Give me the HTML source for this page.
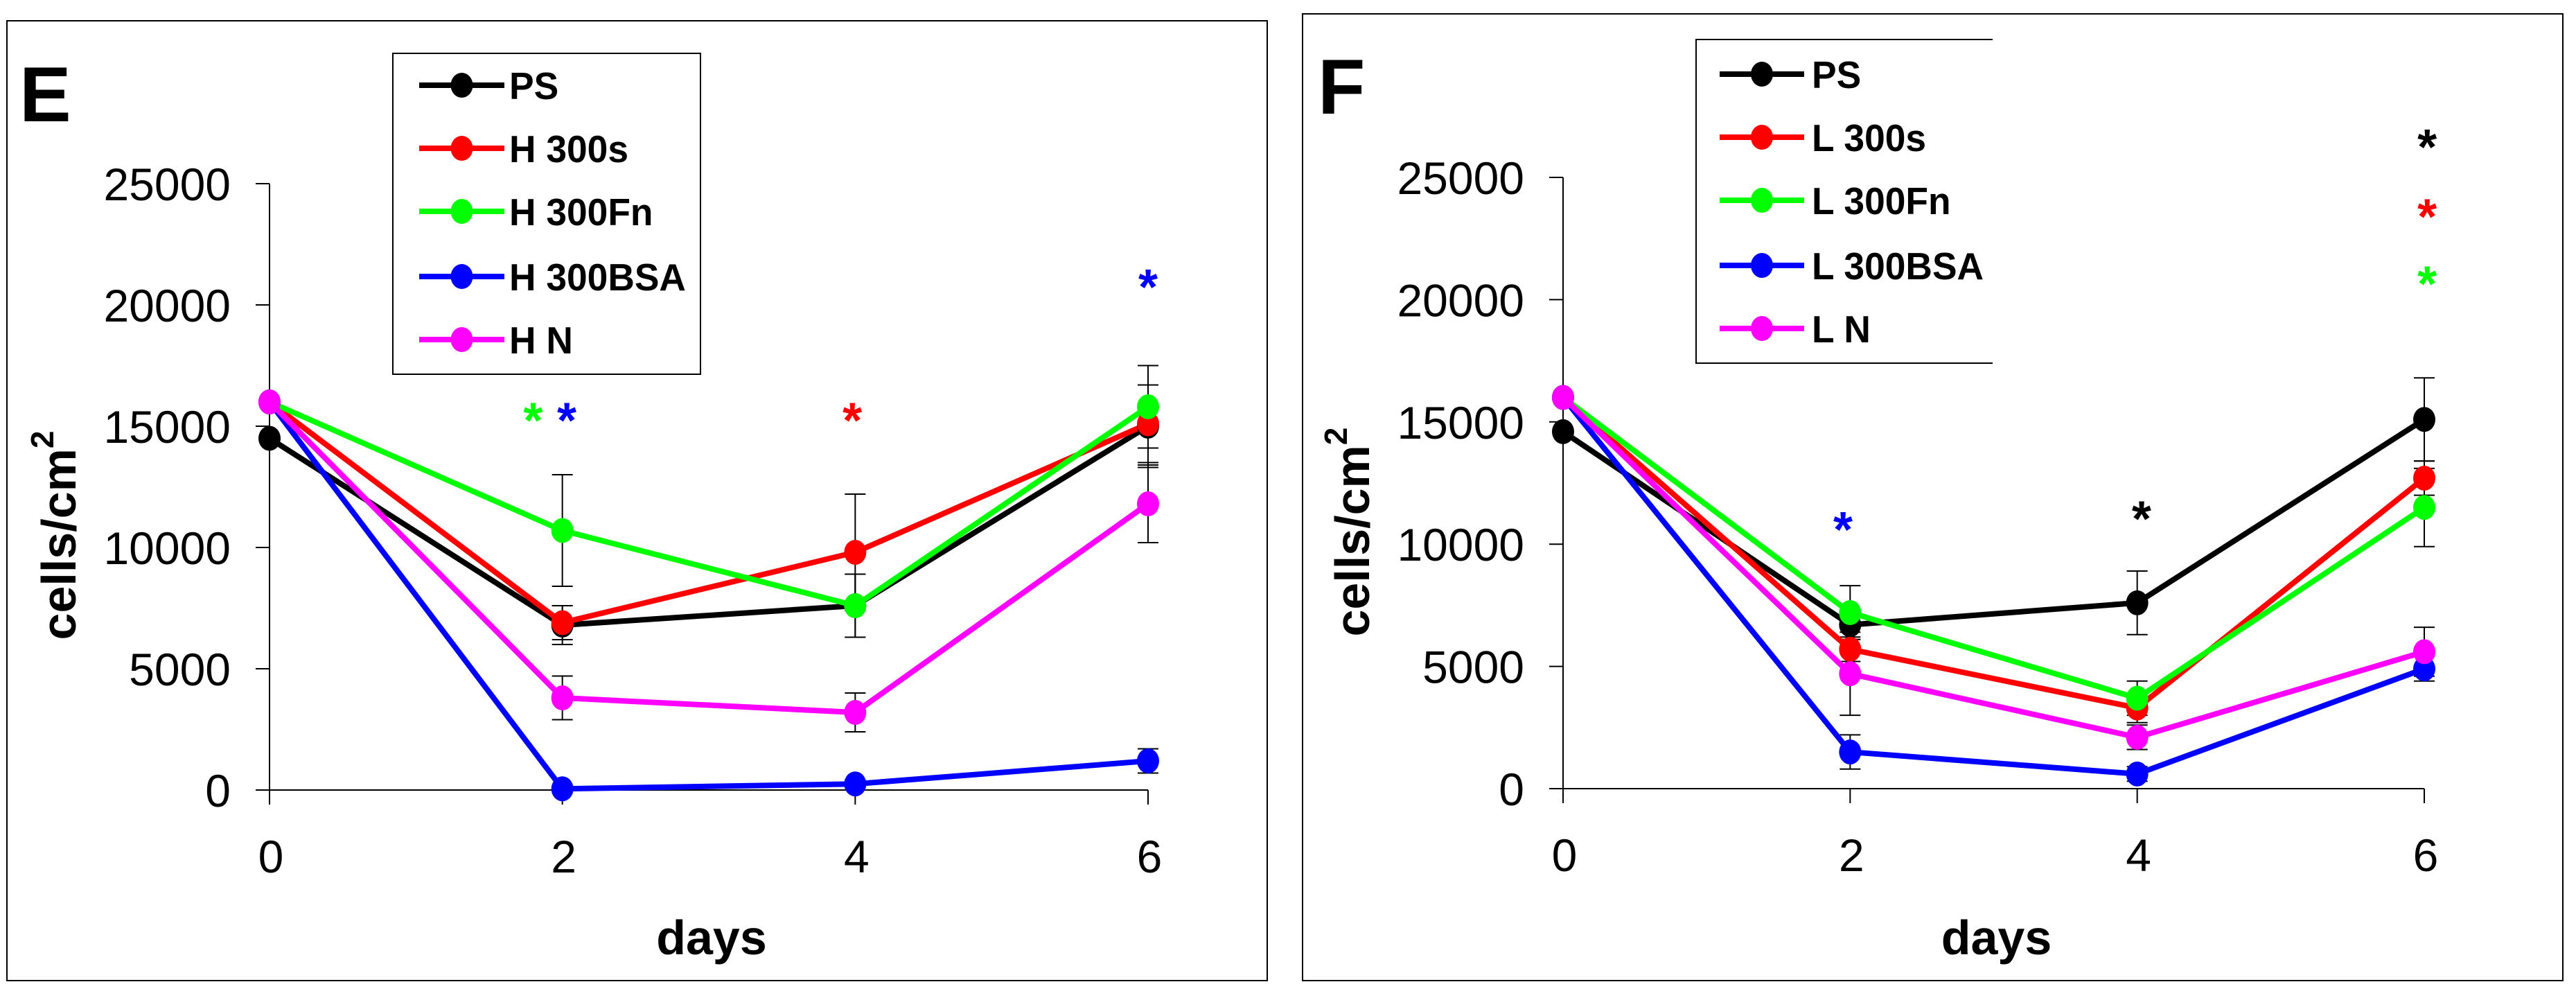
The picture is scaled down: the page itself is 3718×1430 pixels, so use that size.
<!DOCTYPE html>
<html><head><meta charset="utf-8"><style>
html,body{margin:0;padding:0;background:#fff;}
svg{display:block;}
text{font-family:"Liberation Sans",Arial,sans-serif;}
</style></head><body>
<svg id="chart" width="3718" height="1430" viewBox="0 0 3718 1430" xmlns="http://www.w3.org/2000/svg"></svg>
<script>
const days = [0, 2, 4, 6];
const yTicks = [0, 5000, 10000, 15000, 20000, 25000];
const colors = ["#000000", "#ff0000", "#00ff00", "#0000ff", "#ff00ff"];
const namesE = ["PS", "H 300s", "H 300Fn", "H 300BSA", "H N"];
const namesF = ["PS", "L 300s", "L 300Fn", "L 300BSA", "L N"];
const psE = [14500, 6800, 7600, 15000];
const h300sE = [16000, 6900, 9800, 15100];
const h300FnE = [16000, 10700, 7600, 15800];
const h300BsaE = [16000, 50, 250, 1200];
const hNE = [16000, 3800, 3200, 11800];
const psErrE = [0, 800, 1300, 1700];
const h300sErrE = [0, 700, 2400, 1600];
const h300FnErrE = [0, 2300, 1300, 1700];
const h300BsaErrE = [0, 0, 0, 500];
const hNErrE = [0, 900, 800, 1600];
const psF = [14600, 6700, 7600, 15100];
const l300sF = [16000, 5700, 3300, 12700];
const l300FnF = [16000, 7200, 3700, 11500];
const l300BsaF = [16000, 1500, 600, 4900];
const lNF = [16000, 4700, 2100, 5600];
const psErrF = [0, 600, 1300, 1700];
const l300sErrF = [0, 500, 600, 700];
const l300FnErrF = [0, 1100, 700, 1600];
const l300BsaErrF = [0, 700, 300, 500];
const lNErrF = [0, 1700, 500, 1000];
const starsE = [[1.8, 15500, 2], [2.03, 15500, 3], [3.98, 15500, 1], [6.0, 21000, 3]];
const starsF = [[1.95, 10850, 3], [4.03, 11300, 0], [6.02, 26500, 0], [6.02, 23650, 1], [6.02, 20900, 2]];

const NS = "http://www.w3.org/2000/svg";
const svg = document.getElementById("chart");
function mk(tag, attrs, parent) {
  const e = document.createElementNS(NS, tag);
  for (const k in attrs) e.setAttribute(k, attrs[k]);
  (parent || svg).appendChild(e);
  return e;
}

function panel(cfg) {
  const g = mk("g", {});
  
  
  const xS = d => cfg.x0 + (d - 0) / 6 * (cfg.x6 - cfg.x0);
  const yS = v => cfg.y0 - v / 25000 * (cfg.y0 - cfg.y25);
  const frame = mk("rect", {x: cfg.fx, y: cfg.fy, width: cfg.fw, height: cfg.fh, fill: "none", stroke: "#000", "stroke-width": 2}, g);
  
  
  const letter = mk("text", {x: cfg.lx, y: cfg.ly, "font-size": 112, "font-weight": "bold"}, g);
  letter.textContent = cfg.letter;
  
  
  const ya = mk("line", {x1: cfg.x0, y1: yS(25000), x2: cfg.x0, y2: cfg.y0, stroke: "#000", "stroke-width": 2}, g);
  
  
  const xa = mk("line", {x1: cfg.x0 - 20, y1: cfg.y0, x2: xS(6), y2: cfg.y0, stroke: "#000", "stroke-width": 2}, g);
  
  
  yTicks.forEach(t => {
    const tk = mk("line", {x1: cfg.x0 - 20, y1: yS(t), x2: cfg.x0, y2: yS(t), stroke: "#000", "stroke-width": 2}, g);
    
    
    const tl = mk("text", {x: cfg.x0 - 56, y: yS(t) + 24, "font-size": 66, "text-anchor": "end"}, g);
    tl.textContent = t;
    
    
  });
  days.forEach(d => {
    const tk = mk("line", {x1: xS(d), y1: cfg.y0, x2: xS(d), y2: cfg.y0 + 21, stroke: "#000", "stroke-width": 2}, g);
    
    
    const tl = mk("text", {x: xS(d) + 2, y: cfg.y0 + 119, "font-size": 66, "text-anchor": "middle"}, g);
    tl.textContent = d;
    
    
  });
  const xt = mk("text", {x: (xS(0) + xS(6)) / 2 + 4, y: 1377, "font-size": 70, "font-weight": "bold", "text-anchor": "middle"}, g);
  xt.textContent = "days";
  
  
  const yt = mk("text", {x: 0, y: 0, "font-size": 70, "font-weight": "bold", "text-anchor": "middle", transform: `translate(${cfg.x0 - 280},${yS(10500)}) rotate(-90)`}, g);
  yt.innerHTML = 'cells/cm<tspan dy="-32" font-size="46">2</tspan>';
  
  
  cfg.series.forEach((s, i) => {
    s.forEach((v, j) => {
      const e = cfg.errs[i][j];
      if (!e) return;
      const x = xS(days[j]);
      const eb = mk("path", {d: `M${x},${yS(v + e)}V${yS(v - e)}M${x - 15},${yS(v + e)}H${x + 15}M${x - 15},${yS(v - e)}H${x + 15}`, stroke: "#000", "stroke-width": 2, fill: "none"}, g);
      
      
    });
  });
  cfg.series.forEach((s, i) => {
    const pts = s.map((v, j) => xS(days[j]) + "," + yS(v)).join(" ");
    const pl = mk("polyline", {points: pts, fill: "none", stroke: colors[i], "stroke-width": 8}, g);
    
    
  });
  cfg.series.forEach((s, i) => {
    s.forEach((v, j) => {
      const c = mk("ellipse", {cx: xS(days[j]), cy: yS(v), rx: 16, ry: 18, fill: colors[i]}, g);
      
      
    });
  });
  cfg.stars.forEach(st => {
    const t = mk("text", {x: xS(st[0]), y: yS(st[1]) + 34, "font-size": 72, "font-weight": "bold", "text-anchor": "middle", fill: colors[st[2]]}, g);
    t.textContent = "*";
    
    
  });
  const lg = mk("g", {}, g);
  
  
  const L = cfg.leg;
  if (L.open) {
    mk("path", {d: `M${L.x + L.w},${L.y}H${L.x}V${L.y + L.h}H${L.x + L.w}`, fill: "#fff", stroke: "#000", "stroke-width": 2}, lg);
  } else {
    mk("rect", {x: L.x, y: L.y, width: L.w, height: L.h, fill: "#fff", stroke: "#000", "stroke-width": 2}, lg);
  }
  cfg.names.forEach((n, i) => {
    const y = L.rows[i];
    const e = mk("g", {}, lg);
    
    
    mk("line", {x1: L.lx1, y1: y, x2: L.lx2, y2: y, stroke: colors[i], "stroke-width": 8}, e);
    mk("ellipse", {cx: (L.lx1 + L.lx2) / 2, cy: y, rx: 16, ry: 18, fill: colors[i]}, e);
    const t = mk("text", {x: L.tx, y: y + 20, "font-size": 55, "font-weight": "bold", transform: `translate(${L.tx},0) scale(0.97,1) translate(${-L.tx},0)`}, e);
    t.textContent = n;
  });
}

panel({
  id: "e", letter: "E", names: namesE,
  series: [psE, h300sE, h300FnE, h300BsaE, hNE],
  errs: [psErrE, h300sErrE, h300FnErrE, h300BsaErrE, hNErrE],
  stars: starsE,
  x0: 389, x6: 1657, y0: 1140, y25: 265,
  fx: 10, fy: 30, fw: 1819, fh: 1385, lx: 28, ly: 175,
  leg: {x: 567, y: 77, w: 444, h: 463, rows: [123, 214, 305, 399, 490], lx1: 605, lx2: 728, tx: 735}
});
panel({
  id: "f", letter: "F", names: namesF,
  series: [psF, l300sF, l300FnF, l300BsaF, lNF],
  errs: [psErrF, l300sErrF, l300FnErrF, l300BsaErrF, lNErrF],
  stars: starsF,
  x0: 2256, x6: 3499, y0: 1138, y25: 256,
  fx: 1880, fy: 20, fw: 1819, fh: 1395, lx: 1902, ly: 164,
  leg: {x: 2448, y: 57, w: 428, h: 467, open: true, rows: [107, 198, 289, 383, 474], lx1: 2482, lx2: 2604, tx: 2615}
});
</script>
</body></html>
